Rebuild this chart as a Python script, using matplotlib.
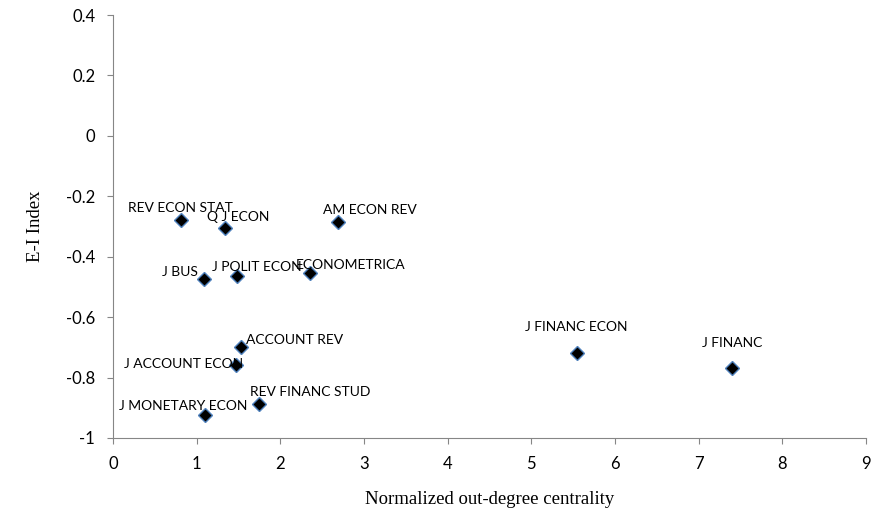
import matplotlib.pyplot as plt

# journals and their values
names = ['REV ECON STAT', 'Q J ECON', 'AM ECON REV', 'J BUS', 'J POLIT ECON',
         'ECONOMETRICA', 'ACCOUNT REV', 'J ACCOUNT ECON', 'REV FINANC STUD',
         'J MONETARY ECON', 'J FINANC ECON', 'J FINANC']
outdeg = [0.81, 1.34, 2.69, 1.09, 1.48, 2.35, 1.53, 1.47, 1.74, 1.10, 5.54, 7.40]
ei = [-0.278, -0.305, -0.285, -0.473, -0.464, -0.454, -0.700, -0.758, -0.887,
      -0.924, -0.718, -0.768]

# label offsets in pixels (dx, dy)
offs = [(0, 12), (13, 11), (32, 12), (-24, 7), (20, 9), (41, 8), (54, 7),
        (-52, 1), (52, 12), (-22, 9), (0, 26), (0, 25)]

fig = plt.figure(figsize=(8.71, 5.11), dpi=100)
ax = fig.add_axes([0.1297, 0.1429, 0.8646, 0.8277])

ax.plot(outdeg, ei, linestyle='none', marker='D', markersize=7.5,
        markerfacecolor='black', markeredgecolor='#4f81bd', markeredgewidth=1)

for n, x, y, o in zip(names, outdeg, ei, offs):
    ax.annotate(n, (x, y), xytext=o, textcoords='offset pixels',
                ha='center', va='center', fontsize=10, family='Lato')

ax.set_xlim(0, 9)
ax.set_ylim(-1, 0.4)
ax.set_xticks(range(0, 10))
ax.set_yticks([-1, -0.8, -0.6, -0.4, -0.2, 0, 0.2, 0.4])
ax.set_yticklabels(['-1', '-0.8', '-0.6', '-0.4', '-0.2', '0', '0.2', '0.4'])

for s in ['top', 'right']:
    ax.spines[s].set_visible(False)
for s in ['left', 'bottom']:
    ax.spines[s].set_color('#868686')
ax.tick_params(color='#868686', length=4.3, labelsize=12, pad=8.5)
for lab in ax.get_xticklabels() + ax.get_yticklabels():
    lab.set_family('Lato')

ax.set_xlabel('Normalized out-degree centrality', family='Liberation Serif',
              fontsize=13.5, labelpad=14)
ax.set_ylabel('E-I Index', family='Liberation Serif', fontsize=13.5, labelpad=16)

plt.savefig('out.png')
